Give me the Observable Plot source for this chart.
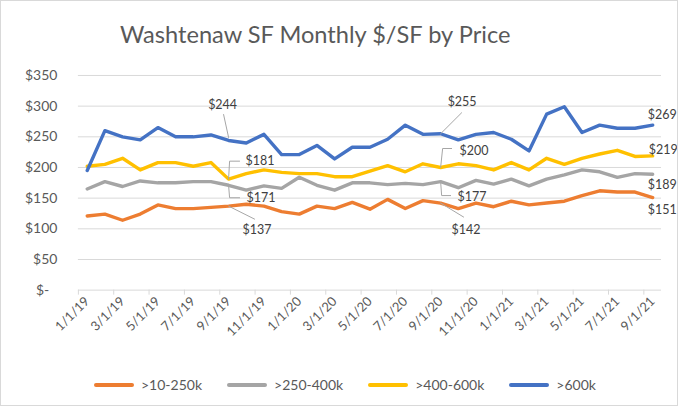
<!DOCTYPE html>
<html><head><meta charset="utf-8">
<script src="https://cdn.jsdelivr.net/npm/d3@7"></script>
<script src="https://cdn.jsdelivr.net/npm/@observablehq/plot@0.6"></script>
<style>
html,body{margin:0;padding:0;background:#fff;overflow:hidden;}
#chart{position:relative;width:678px;height:406px;font-family:Lato,sans-serif;color:#595959;box-sizing:border-box;border:1px solid #d9d9d9;overflow:hidden;}
#title{position:absolute;left:119px;top:22px;font-size:23.6px;line-height:1;white-space:nowrap;}
#plot{position:absolute;left:-1px;top:59px;}
#legend{position:absolute;left:93px;top:375px;display:flex;gap:25px;font-size:14px;white-space:nowrap;}
.item{display:flex;align-items:center;gap:7px}
.swatch{width:40px;height:4px;border-radius:2px}
</style></head><body>
<div id="chart"><div id="title">Washtenaw SF Monthly $/SF by Price</div><div id="plot"></div><div id="legend"></div></div>
<script>
const months = ["1/1/19","2/1/19","3/1/19","4/1/19","5/1/19","6/1/19","7/1/19","8/1/19","9/1/19","10/1/19","11/1/19","12/1/19",
  "1/1/20","2/1/20","3/1/20","4/1/20","5/1/20","6/1/20","7/1/20","8/1/20","9/1/20","10/1/20","11/1/20","12/1/20",
  "1/1/21","2/1/21","3/1/21","4/1/21","5/1/21","6/1/21","7/1/21","8/1/21","9/1/21"];
const series = [">10-250k", ">250-400k", ">400-600k", ">600k"];
const p10_250  = [121,124,114,124,139,133,133,135,137,140,137,128,124,137,133,143,132,148,133,146,142,133,142,136,145,139,142,145,154,162,160,160,151];
const p250_400 = [165,177,169,178,175,175,177,177,171,163,170,166,184,171,163,175,175,172,174,172,177,167,179,173,181,170,181,188,196,193,184,190,189];
const p400_600 = [202,205,215,196,208,208,202,208,181,190,196,192,190,190,185,185,194,203,193,206,200,206,203,196,208,196,215,205,215,222,228,218,219];
const p600     = [195,260,250,245,265,250,250,253,244,240,254,221,221,236,214,233,233,246,269,254,255,245,254,257,246,227,287,299,257,269,264,264,269];
const yTicks = [0,50,100,150,200,250,300,350];
const labelMonths = ["9/1/19","9/1/20","9/1/21"];

const values = [p10_250, p250_400, p400_600, p600];
const colors = ["#ED7D31","#A5A5A5","#FFC000","#4472C4"];

const rows = [];
series.forEach((s,k) => values[k].forEach((v,i) => rows.push({i, month: months[i], series: s, value: v})));

// layout
const W = 678, H = 292, ML = 78, MR = 16, MT = 15, MB = 62;
const yMax = yTicks[yTicks.length-1];
const pxX = (W-ML-MR)/months.length, pxY = (H-MT-MB)/yMax;

// label placement (pixel offsets from the data point) per labelled month, per series
const placement = [
  [ // 9/1/19
    {tx:14, ty:24, anchor:"start", path:[[0,0],[26,13]]},
    {tx:18, ty:13, anchor:"start", path:[[0,0],[1,12.5],[11,12.5]]},
    {tx:17, ty:-18, anchor:"start", path:[[0,0],[1,-18],[11,-18]]},
    {tx:-6, ty:-36, anchor:"middle", path:[[0,-3],[-5,-26]]}
  ],
  [ // 9/1/20
    {tx:11, ty:26.5, anchor:"start", path:[[0,0],[23,14]]},
    {tx:17, ty:15, anchor:"start", path:[[0,0],[1,14],[10,14]]},
    {tx:19, ty:-17, anchor:"start", path:[[0,0],[2,-19],[11,-19]]},
    {tx:21.5, ty:-32, anchor:"middle", path:[[0,0],[21,-21]]}
  ],
  [ // 9/1/21
    {tx:-5, ty:12, anchor:"start", path:null},
    {tx:-5, ty:10.5, anchor:"start", path:null},
    {tx:-4, ty:-6, anchor:"start", path:null},
    {tx:-5, ty:-10.5, anchor:"start", path:null}
  ]
];
const toX = (i, px) => i + px/pxX;
const toY = (v, py) => v - py/pxY;

const labelRows = [], leaderRows = [];
labelMonths.forEach((m, j) => {
  const i = months.indexOf(m);
  series.forEach((s, k) => {
    const v = values[k][i];
    const p = placement[j][k];
    labelRows.push({x: toX(i, p.tx), y: toY(v, p.ty), text: "$" + v, anchor: p.anchor});
    if (p.path) p.path.forEach(([px, py]) => leaderRows.push({id: m + s, x: toX(i, px), y: toY(v, py)}));
  });
});

const evenIdx = months.map((_, i) => i).filter(i => i % 2 === 0);
const boundaries = evenIdx.map(i => i - 0.5);

const chart = Plot.plot({
  width: W, height: H,
  marginLeft: ML, marginRight: MR, marginTop: MT, marginBottom: MB,
  style: {fontFamily: "Lato, sans-serif", color: "#595959", background: "transparent", overflow: "visible"},
  x: {type: "linear", domain: [-0.5, months.length - 0.5]},
  y: {domain: [0, yMax]},
  color: {domain: series, range: colors},
  marks: [
    Plot.ruleY(yTicks, {stroke: "#d9d9d9", strokeWidth: 1}),
    Plot.axisY({ticks: yTicks, tickSize: 0, tickPadding: 21, fontSize: 14, label: null,
      tickFormat: d => d === 0 ? "$-\u2007" : "$" + d}),
    Plot.axisX({ticks: boundaries, tickSize: 5, stroke: "#d9d9d9", tickFormat: () => "", label: null}),
    Plot.axisX({ticks: evenIdx, tickSize: 0, tickPadding: 9, tickRotate: -45, fontSize: 13, label: null,
      tickFormat: i => months[i]}),
    Plot.line(rows, {x: "i", y: "value", z: "series", stroke: "series", strokeWidth: 3.4,
      strokeLinejoin: "round", strokeLinecap: "round"}),
    Plot.line(leaderRows, {x: "x", y: "y", z: "id", stroke: "#a6a6a6", strokeWidth: 1}),
    Plot.text(labelRows.filter(d => d.anchor === "start"), {x: "x", y: "y", text: "text", textAnchor: "start", fontSize: 12.5, fill: "#404040"}),
    Plot.text(labelRows.filter(d => d.anchor === "middle"), {x: "x", y: "y", text: "text", textAnchor: "middle", fontSize: 12.5, fill: "#404040"})
  ]
});
document.getElementById("plot").appendChild(chart);

const legend = document.getElementById("legend");
series.forEach((s, k) => {
  const item = document.createElement("div");
  item.className = "item";
  const sw = document.createElement("div");
  sw.className = "swatch";
  sw.style.background = colors[k];
  const t = document.createElement("span");
  t.textContent = s;
  item.appendChild(sw); item.appendChild(t);
  legend.appendChild(item);
});
</script>
</body></html>
